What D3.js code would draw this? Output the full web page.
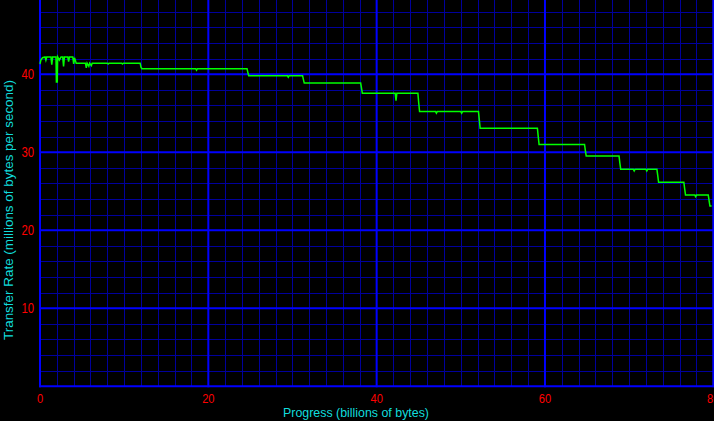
<!DOCTYPE html>
<html><head><meta charset="utf-8">
<script src="https://cdn.jsdelivr.net/npm/d3@7"></script>
<style>html,body{margin:0;padding:0;background:#000;}svg{display:block;}</style>
</head><body>
<script>
// ---- data ----
const progress = [0,0.1,0.3,0.6,0.7,0.8,1.0,1.3,1.4,1.5,1.9,1.95,2.05,2.1,2.3,2.5,2.7,2.8,2.9,3.3,3.4,3.5,3.9,4.0,4.1,4.3,4.6,
  5.4,5.5,5.6,5.8,5.9,6.1,6.2,8.0,8.1,8.2,9.7,9.8,9.9,11.9,12.0,12.1,
  18.5,18.6,18.7,24.6,24.7,24.8,29.4,29.5,29.6,31.2,31.3,31.4,38.1,38.2,38.3,
  42.2,42.3,42.4,44.9,45.0,45.1,47.0,47.1,47.2,50.0,50.1,50.2,52.1,52.2,52.3,
  59.1,59.2,59.3,64.7,64.8,64.9,68.8,68.9,69.0,70.5,70.6,70.7,72.0,72.1,72.2,73.3,73.4,73.5,
  76.5,76.6,76.7,77.8,77.9,78.0,79.4,79.5,79.6,79.8];
const rate = [41.3,41.8,42.1,42.2,41.8,42.2,42.2,42.2,41.2,42.2,42.2,39.0,39.0,42.2,41.8,42.2,42.2,41.0,42.2,42.2,41.6,42.2,42.2,41.3,42.1,41.4,41.4,
  41.4,40.8,41.4,41.0,41.4,41.1,41.4,41.4,41.3,41.4,41.4,41.3,41.4,41.4,40.9,40.7,
  40.7,40.5,40.7,40.7,40.2,39.8,39.8,39.6,39.8,39.8,39.3,38.85,38.85,38.2,37.55,
  37.55,36.6,37.55,37.55,36.3,35.2,35.2,35.0,35.2,35.2,35.0,35.2,35.2,34.1,33.07,
  33.07,32.0,31.0,31.0,30.2,29.5,29.5,28.6,27.8,27.8,27.6,27.8,27.8,27.6,27.8,27.8,27.0,26.15,
  26.15,25.3,24.5,24.5,24.3,24.5,24.5,23.8,23.1,23.1];
const xTicks = [0,20,40,60,80];
const yTicks = [10,20,30,40];
const xTitle = "Progress (billions of bytes)";
const yTitle = "Transfer Rate (millions of bytes per second)";

// ---- chart ----
const W = 714, H = 421;
const x = d3.scaleLinear().domain([0,80]).range([40,713.3]);
const y = d3.scaleLinear().domain([0,49.5]).range([386.3,0]);

const svg = d3.select("body").append("svg").attr("width",W).attr("height",H)
  .style("background","#000");

const g = svg.append("g");
// minor grid
g.selectAll(".vminor").data(d3.range(0,81,2).filter(d=>d%20!==0)).join("line")
  .attr("x1",d=>Math.round(x(d))+0.5).attr("x2",d=>Math.round(x(d))+0.5)
  .attr("y1",0).attr("y2",y(0)).attr("stroke","#00009c").attr("stroke-width",1);
g.selectAll(".hminor").data(d3.range(2,50,2).filter(d=>d%10!==0)).join("line")
  .attr("x1",x(0)).attr("x2",W).attr("y1",d=>Math.round(y(d))+0.5).attr("y2",d=>Math.round(y(d))+0.5)
  .attr("stroke","#00009c").attr("stroke-width",1);
// major grid
g.selectAll(".vmajor").data(xTicks).join("line")
  .attr("x1",d=>x(d)).attr("x2",d=>x(d)).attr("y1",0).attr("y2",y(0)+1)
  .attr("stroke","#0000ff").attr("stroke-width",2);
g.selectAll(".hmajor").data([0].concat(yTicks)).join("line")
  .attr("x1",x(0)-1).attr("x2",W).attr("y1",d=>y(d)).attr("y2",d=>y(d))
  .attr("stroke","#0000ff").attr("stroke-width",2);

// line
const line = d3.line().x((d,i)=>x(progress[i])).y((d,i)=>y(rate[i]));
svg.append("path").datum(rate).attr("d",line).attr("fill","none")
  .attr("stroke","#00ff00").attr("stroke-width",1.5);

// tick labels
const font = "'Liberation Sans', Arial, sans-serif";
svg.selectAll(".xt").data(xTicks).join("text")
  .attr("x",d=>x(d)).attr("y",403).attr("text-anchor","middle")
  .attr("fill","#ff0000").style("font-family",font).style("font-size","13px")
  .attr("textLength",d=>String(d).length*6.2).attr("lengthAdjust","spacingAndGlyphs")
  .text(d=>d);
svg.selectAll(".yt").data(yTicks).join("text")
  .attr("x",34).attr("y",d=>y(d)+5).attr("text-anchor","end")
  .attr("fill","#ff0000").style("font-family",font).style("font-size","14px")
  .attr("textLength",d=>String(d).length*6.3).attr("lengthAdjust","spacingAndGlyphs")
  .text(d=>d);

// titles
svg.append("text").attr("x",356).attr("y",417).attr("text-anchor","middle")
  .attr("fill","#11dddd").style("font-family",font).style("font-size","13px")
  .attr("textLength",146).attr("lengthAdjust","spacingAndGlyphs").text(xTitle);
svg.append("text").attr("transform","translate(13.3,210) rotate(-90)").attr("text-anchor","middle")
  .attr("fill","#11dddd").style("font-family",font).style("font-size","13.5px")
  .attr("textLength",260).attr("lengthAdjust","spacingAndGlyphs").text(yTitle);
</script>
</body></html>
